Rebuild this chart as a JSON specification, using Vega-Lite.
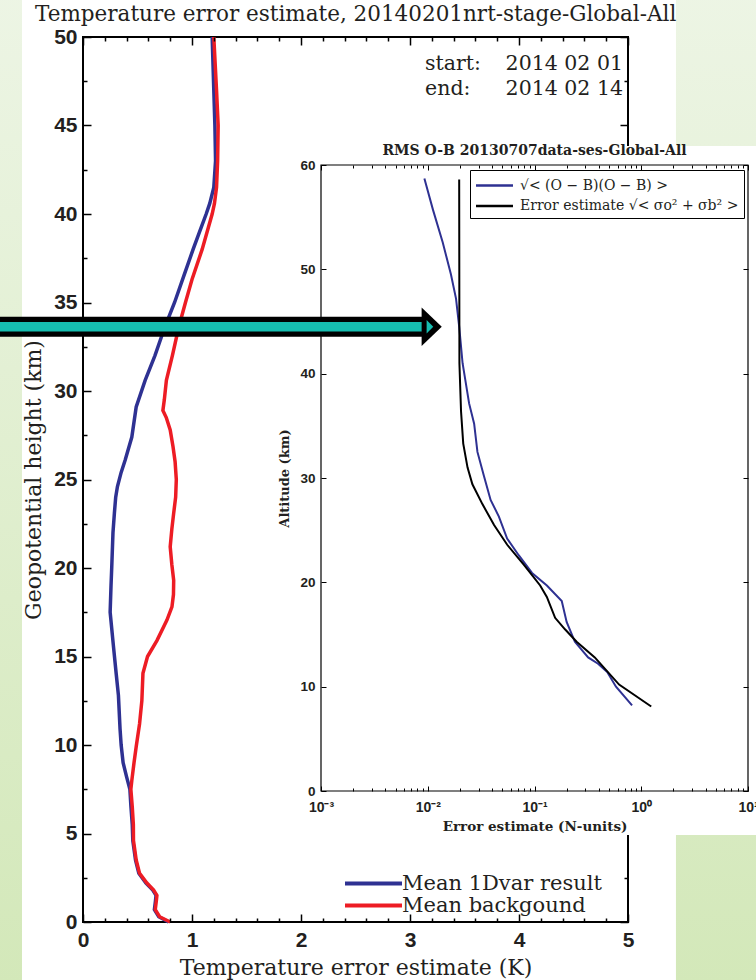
{
"$schema": "https://vega.github.io/schema/vega-lite/v6.json",
"width": 665, "height": 885,
"autosize": "none",
"padding": {"left": 83, "top": 37, "right": 8, "bottom": 58},
"background": "white",
"data": {"values": [{}]},
"config": {
  "view": {"stroke": null},
  "axis": {"labelFont": "Liberation Sans", "labelFontWeight": "bold", "labelColor": "#231f20", "tickColor": "black", "domain": false, "grid": false, "titleFont": "DejaVu Serif", "titleFontWeight": "normal", "titleColor": "#231f20", "labelOverlap": false, "labelFlush": false, "labelBound": false}
},
"datasets": {
  "main": [
    {"series": "Mean 1Dvar result", "h": 0, "t": 0.785},
    {"series": "Mean 1Dvar result", "h": 0.3, "t": 0.695},
    {"series": "Mean 1Dvar result", "h": 0.7, "t": 0.655},
    {"series": "Mean 1Dvar result", "h": 1.15, "t": 0.664},
    {"series": "Mean 1Dvar result", "h": 1.5, "t": 0.67},
    {"series": "Mean 1Dvar result", "h": 1.8, "t": 0.64},
    {"series": "Mean 1Dvar result", "h": 2.2, "t": 0.578},
    {"series": "Mean 1Dvar result", "h": 2.75, "t": 0.512},
    {"series": "Mean 1Dvar result", "h": 3.5, "t": 0.482},
    {"series": "Mean 1Dvar result", "h": 4.6, "t": 0.457},
    {"series": "Mean 1Dvar result", "h": 5.5, "t": 0.452},
    {"series": "Mean 1Dvar result", "h": 6.5, "t": 0.44},
    {"series": "Mean 1Dvar result", "h": 7.5, "t": 0.43},
    {"series": "Mean 1Dvar result", "h": 8.2, "t": 0.4},
    {"series": "Mean 1Dvar result", "h": 9.0, "t": 0.368},
    {"series": "Mean 1Dvar result", "h": 10.0, "t": 0.35},
    {"series": "Mean 1Dvar result", "h": 10.9, "t": 0.34},
    {"series": "Mean 1Dvar result", "h": 12.8, "t": 0.325},
    {"series": "Mean 1Dvar result", "h": 14.0, "t": 0.305},
    {"series": "Mean 1Dvar result", "h": 15.6, "t": 0.279},
    {"series": "Mean 1Dvar result", "h": 17.5, "t": 0.249},
    {"series": "Mean 1Dvar result", "h": 19.0, "t": 0.257},
    {"series": "Mean 1Dvar result", "h": 20.1, "t": 0.264},
    {"series": "Mean 1Dvar result", "h": 22.0, "t": 0.275},
    {"series": "Mean 1Dvar result", "h": 23.1, "t": 0.288},
    {"series": "Mean 1Dvar result", "h": 24.0, "t": 0.3},
    {"series": "Mean 1Dvar result", "h": 24.6, "t": 0.316},
    {"series": "Mean 1Dvar result", "h": 25.4, "t": 0.35},
    {"series": "Mean 1Dvar result", "h": 26.1, "t": 0.387},
    {"series": "Mean 1Dvar result", "h": 27.4, "t": 0.448},
    {"series": "Mean 1Dvar result", "h": 29.1, "t": 0.488},
    {"series": "Mean 1Dvar result", "h": 30.6, "t": 0.57},
    {"series": "Mean 1Dvar result", "h": 32.0, "t": 0.66},
    {"series": "Mean 1Dvar result", "h": 33.6, "t": 0.75},
    {"series": "Mean 1Dvar result", "h": 35.0, "t": 0.84},
    {"series": "Mean 1Dvar result", "h": 36.5, "t": 0.925},
    {"series": "Mean 1Dvar result", "h": 38.0, "t": 1.01},
    {"series": "Mean 1Dvar result", "h": 39.0, "t": 1.07},
    {"series": "Mean 1Dvar result", "h": 40.0, "t": 1.13},
    {"series": "Mean 1Dvar result", "h": 40.6, "t": 1.163},
    {"series": "Mean 1Dvar result", "h": 41.5, "t": 1.2},
    {"series": "Mean 1Dvar result", "h": 43.0, "t": 1.216},
    {"series": "Mean 1Dvar result", "h": 45.0, "t": 1.21},
    {"series": "Mean 1Dvar result", "h": 47.0, "t": 1.2},
    {"series": "Mean 1Dvar result", "h": 50.0, "t": 1.185},
    {"series": "Mean backgound", "h": 0, "t": 0.8},
    {"series": "Mean backgound", "h": 0.3, "t": 0.703},
    {"series": "Mean backgound", "h": 0.7, "t": 0.663},
    {"series": "Mean backgound", "h": 1.15, "t": 0.672},
    {"series": "Mean backgound", "h": 1.5, "t": 0.678},
    {"series": "Mean backgound", "h": 1.8, "t": 0.648},
    {"series": "Mean backgound", "h": 2.2, "t": 0.586},
    {"series": "Mean backgound", "h": 2.75, "t": 0.519},
    {"series": "Mean backgound", "h": 3.5, "t": 0.488},
    {"series": "Mean backgound", "h": 4.6, "t": 0.463},
    {"series": "Mean backgound", "h": 5.5, "t": 0.462},
    {"series": "Mean backgound", "h": 6.5, "t": 0.452},
    {"series": "Mean backgound", "h": 7.5, "t": 0.439},
    {"series": "Mean backgound", "h": 8.0, "t": 0.448},
    {"series": "Mean backgound", "h": 9.0, "t": 0.468},
    {"series": "Mean backgound", "h": 9.9, "t": 0.488},
    {"series": "Mean backgound", "h": 11.2, "t": 0.519},
    {"series": "Mean backgound", "h": 12.5, "t": 0.54},
    {"series": "Mean backgound", "h": 14.05, "t": 0.55},
    {"series": "Mean backgound", "h": 15.0, "t": 0.592},
    {"series": "Mean backgound", "h": 15.9, "t": 0.678},
    {"series": "Mean backgound", "h": 17.06, "t": 0.77},
    {"series": "Mean backgound", "h": 17.8, "t": 0.816},
    {"series": "Mean backgound", "h": 18.5, "t": 0.83},
    {"series": "Mean backgound", "h": 19.3, "t": 0.832},
    {"series": "Mean backgound", "h": 20.2, "t": 0.815},
    {"series": "Mean backgound", "h": 21.2, "t": 0.8},
    {"series": "Mean backgound", "h": 22.2, "t": 0.815},
    {"series": "Mean backgound", "h": 23.1, "t": 0.832},
    {"series": "Mean backgound", "h": 24.0, "t": 0.85},
    {"series": "Mean backgound", "h": 25.0, "t": 0.856},
    {"series": "Mean backgound", "h": 26.0, "t": 0.845},
    {"series": "Mean backgound", "h": 26.85, "t": 0.826},
    {"series": "Mean backgound", "h": 27.8, "t": 0.8},
    {"series": "Mean backgound", "h": 28.5, "t": 0.764},
    {"series": "Mean backgound", "h": 28.9, "t": 0.733},
    {"series": "Mean backgound", "h": 29.5, "t": 0.746},
    {"series": "Mean backgound", "h": 30.6, "t": 0.765},
    {"series": "Mean backgound", "h": 32.0, "t": 0.82},
    {"series": "Mean backgound", "h": 33.6, "t": 0.878},
    {"series": "Mean backgound", "h": 35.0, "t": 0.94},
    {"series": "Mean backgound", "h": 36.3, "t": 1.0},
    {"series": "Mean backgound", "h": 38.0, "t": 1.093},
    {"series": "Mean backgound", "h": 40.0, "t": 1.185},
    {"series": "Mean backgound", "h": 40.6, "t": 1.206},
    {"series": "Mean backgound", "h": 41.5, "t": 1.225},
    {"series": "Mean backgound", "h": 43.0, "t": 1.235},
    {"series": "Mean backgound", "h": 45.0, "t": 1.24},
    {"series": "Mean backgound", "h": 47.0, "t": 1.225},
    {"series": "Mean backgound", "h": 50.0, "t": 1.2}
  ],
  "inset": [
    {"s": "√< (O − B)(O − B) >", "alt": 58.7, "v": 0.0093},
    {"s": "√< (O − B)(O − B) >", "alt": 55.7, "v": 0.0112},
    {"s": "√< (O − B)(O − B) >", "alt": 52.6, "v": 0.0138},
    {"s": "√< (O − B)(O − B) >", "alt": 49.5, "v": 0.0165},
    {"s": "√< (O − B)(O − B) >", "alt": 47.2, "v": 0.0184},
    {"s": "√< (O − B)(O − B) >", "alt": 44.5, "v": 0.0197},
    {"s": "√< (O − B)(O − B) >", "alt": 41.0, "v": 0.0212},
    {"s": "√< (O − B)(O − B) >", "alt": 37.15, "v": 0.0244},
    {"s": "√< (O − B)(O − B) >", "alt": 35.2, "v": 0.0272},
    {"s": "√< (O − B)(O − B) >", "alt": 32.5, "v": 0.0292},
    {"s": "√< (O − B)(O − B) >", "alt": 30.2, "v": 0.0336},
    {"s": "√< (O − B)(O − B) >", "alt": 27.9, "v": 0.0388},
    {"s": "√< (O − B)(O − B) >", "alt": 26.3, "v": 0.0464},
    {"s": "√< (O − B)(O − B) >", "alt": 24.2, "v": 0.0554},
    {"s": "√< (O − B)(O − B) >", "alt": 22.6, "v": 0.0711},
    {"s": "√< (O − B)(O − B) >", "alt": 20.9, "v": 0.0948},
    {"s": "√< (O − B)(O − B) >", "alt": 19.7, "v": 0.1306},
    {"s": "√< (O − B)(O − B) >", "alt": 18.2, "v": 0.18},
    {"s": "√< (O − B)(O − B) >", "alt": 16.2, "v": 0.2},
    {"s": "√< (O − B)(O − B) >", "alt": 14.3, "v": 0.239},
    {"s": "√< (O − B)(O − B) >", "alt": 12.8, "v": 0.318},
    {"s": "√< (O − B)(O − B) >", "alt": 12.2, "v": 0.394},
    {"s": "√< (O − B)(O − B) >", "alt": 11.4, "v": 0.48},
    {"s": "√< (O − B)(O − B) >", "alt": 10.0, "v": 0.58},
    {"s": "√< (O − B)(O − B) >", "alt": 8.2, "v": 0.82},
    {"s": "Error estimate √< σo² + σb² >", "alt": 58.6, "v": 0.0197},
    {"s": "Error estimate √< σo² + σb² >", "alt": 41.0, "v": 0.0198},
    {"s": "Error estimate √< σo² + σb² >", "alt": 36.4, "v": 0.0205},
    {"s": "Error estimate √< σo² + σb² >", "alt": 33.3, "v": 0.0215},
    {"s": "Error estimate √< σo² + σb² >", "alt": 31.0, "v": 0.0236},
    {"s": "Error estimate √< σo² + σb² >", "alt": 29.4, "v": 0.0262},
    {"s": "Error estimate √< σo² + σb² >", "alt": 27.5, "v": 0.0325},
    {"s": "Error estimate √< σo² + σb² >", "alt": 25.5, "v": 0.0418},
    {"s": "Error estimate √< σo² + σb² >", "alt": 23.6, "v": 0.0555},
    {"s": "Error estimate √< σo² + σb² >", "alt": 21.7, "v": 0.0793},
    {"s": "Error estimate √< σo² + σb² >", "alt": 19.7, "v": 0.113},
    {"s": "Error estimate √< σo² + σb² >", "alt": 18.6, "v": 0.1305},
    {"s": "Error estimate √< σo² + σb² >", "alt": 16.6, "v": 0.156},
    {"s": "Error estimate √< σo² + σb² >", "alt": 15.5, "v": 0.193},
    {"s": "Error estimate √< σo² + σb² >", "alt": 14.3, "v": 0.248},
    {"s": "Error estimate √< σo² + σb² >", "alt": 12.8, "v": 0.367},
    {"s": "Error estimate √< σo² + σb² >", "alt": 10.2, "v": 0.62},
    {"s": "Error estimate √< σo² + σb² >", "alt": 8.1, "v": 1.24}
  ]
},
"resolve": {"scale": {"x": "independent", "y": "independent", "color": "independent"}, "axis": {"x": "independent", "y": "independent"}, "legend": {"color": "independent"}},
"layer": [
  {"mark": {"type": "rect", "fill": {"gradient": "linear", "x1": 0, "y1": 0, "x2": 0, "y2": 1, "stops": [{"offset": 0, "color": "#edf5e5"}, {"offset": 1, "color": "#d3e8b9"}]}},
   "encoding": {
     "x": {"datum": -0.8, "type": "quantitative", "scale": {"domain": [0, 5], "range": [0, 545], "nice": false, "zero": false}, "axis": null},
     "x2": {"datum": 6.3},
     "y": {"datum": -3.5, "type": "quantitative", "scale": {"domain": [0, 50], "range": [885, 0], "nice": false, "zero": false}, "axis": null},
     "y2": {"datum": 53}}},
  {"mark": {"type": "rect", "fill": "white"},
   "encoding": {
     "x": {"datum": -0.5596, "type": "quantitative", "scale": {"domain": [0, 5], "range": [0, 545], "nice": false, "zero": false}, "axis": null},
     "x2": {"datum": 5.44},
     "y": {"datum": -3.5, "type": "quantitative", "scale": {"domain": [0, 50], "range": [885, 0], "nice": false, "zero": false}, "axis": null},
     "y2": {"datum": 53}}},
  {"mark": {"type": "text", "text": "Temperature error estimate, 20140201nrt-stage-Global-All", "align": "left", "baseline": "alphabetic", "font": "DejaVu Serif", "fontSize": 21.5, "color": "#231f20"},
   "encoding": {
     "x": {"datum": -0.44, "type": "quantitative", "scale": {"domain": [0, 5], "range": [0, 545], "nice": false, "zero": false}, "axis": null},
     "y": {"datum": 50.9, "type": "quantitative", "scale": {"domain": [0, 50], "range": [885, 0], "nice": false, "zero": false}, "axis": null}}},
  {"mark": {"type": "rect", "fill": "white", "fillOpacity": 0, "stroke": "black", "strokeWidth": 2},
   "encoding": {
     "x": {"datum": 0, "type": "quantitative", "scale": {"domain": [0, 5], "range": [0, 545], "nice": false, "zero": false},
       "axis": {"orient": "top", "zindex": 1, "values": [0,0.2,0.4,0.6,0.8,1,1.2,1.4,1.6,1.8,2,2.2,2.4,2.6,2.8,3,3.2,3.4,3.6,3.8,4,4.2,4.4,4.6,4.8,5], "labels": false, "title": null, "tickWidth": 1.5, "tickSize": {"condition": {"test": "datum.value % 1 === 0", "value": -8}, "value": -4}}},
     "x2": {"datum": 5},
     "y": {"datum": 0, "type": "quantitative", "scale": {"domain": [0, 50], "range": [885, 0], "nice": false, "zero": false},
       "axis": {"orient": "right", "zindex": 1, "offset": -120, "values": [0, 2.5, 45, 47.5, 50], "labels": false, "title": null, "tickWidth": 1.5, "tickSize": {"condition": {"test": "datum.value % 5 === 0", "value": -8}, "value": -4}}},
     "y2": {"datum": 50}}},
  {"data": {"name": "main"},
   "mark": {"type": "line", "strokeWidth": 3.5},
   "encoding": {
     "x": {"field": "t", "type": "quantitative", "scale": {"domain": [0, 5], "range": [0, 545], "nice": false, "zero": false},
       "axis": {"orient": "bottom", "zindex": 1, "values": [0,0.2,0.4,0.6,0.8,1,1.2,1.4,1.6,1.8,2,2.2,2.4,2.6,2.8,3,3.2,3.4,3.6,3.8,4,4.2,4.4,4.6,4.8,5], "labelExpr": "datum.value % 1 === 0 ? format(datum.value, 'd') : ''", "labelFontSize": 21, "labelPadding": 15, "tickWidth": 1.5, "tickSize": {"condition": {"test": "datum.value % 1 === 0", "value": -8}, "value": -4}, "title": "Temperature error estimate (K)", "titleFontSize": 22, "titlePadding": 3}},
     "y": {"field": "h", "type": "quantitative", "scale": {"domain": [0, 50], "range": [885, 0], "nice": false, "zero": false},
       "axis": {"orient": "left", "zindex": 1, "values": [0,2.5,5,7.5,10,12.5,15,17.5,20,22.5,25,27.5,30,32.5,35,37.5,40,42.5,45,47.5,50], "labelExpr": "datum.value % 5 === 0 ? format(datum.value, 'd') : ''", "labelFontSize": 21, "labelPadding": 14, "tickWidth": 1.5, "tickSize": {"condition": {"test": "datum.value % 5 === 0", "value": -8}, "value": -4}, "title": "Geopotential height (km)", "titleFontSize": 22, "titlePadding": 8}},
     "color": {"field": "series", "type": "nominal", "scale": {"domain": ["Mean 1Dvar result", "Mean backgound"], "range": ["#2e3192", "#ed1c24"]},
       "legend": {"orient": "none", "legendX": 260, "legendY": 835, "title": null, "symbolType": "M -3 0 L 3 0", "symbolSize": 361, "symbolOffset": 19, "symbolStrokeWidth": 4, "labelFont": "DejaVu Serif", "labelFontSize": 21, "labelColor": "#231f20", "labelLimit": 400, "rowPadding": -10, "labelOffset": 17, "padding": 0}},
     "order": {"field": "h", "type": "quantitative"}}},
  {"mark": {"type": "text", "text": "start:", "align": "left", "baseline": "alphabetic", "font": "DejaVu Serif", "fontSize": 20.5, "color": "#231f20"},
   "encoding": {
     "x": {"datum": 3.138, "type": "quantitative", "scale": {"domain": [0, 5], "range": [0, 545], "nice": false, "zero": false}, "axis": null},
     "y": {"datum": 48.14, "type": "quantitative", "scale": {"domain": [0, 50], "range": [885, 0], "nice": false, "zero": false}, "axis": null}}},
  {"mark": {"type": "text", "text": "2014 02 01", "align": "right", "baseline": "alphabetic", "font": "DejaVu Serif", "fontSize": 20.5, "color": "#231f20"},
   "encoding": {
     "x": {"datum": 4.954, "type": "quantitative", "scale": {"domain": [0, 5], "range": [0, 545], "nice": false, "zero": false}, "axis": null},
     "y": {"datum": 48.14, "type": "quantitative", "scale": {"domain": [0, 50], "range": [885, 0], "nice": false, "zero": false}, "axis": null}}},
  {"mark": {"type": "text", "text": "end:", "align": "left", "baseline": "alphabetic", "font": "DejaVu Serif", "fontSize": 20.5, "color": "#231f20"},
   "encoding": {
     "x": {"datum": 3.138, "type": "quantitative", "scale": {"domain": [0, 5], "range": [0, 545], "nice": false, "zero": false}, "axis": null},
     "y": {"datum": 46.72, "type": "quantitative", "scale": {"domain": [0, 50], "range": [885, 0], "nice": false, "zero": false}, "axis": null}}},
  {"mark": {"type": "text", "text": "2014 02 14", "align": "right", "baseline": "alphabetic", "font": "DejaVu Serif", "fontSize": 20.5, "color": "#231f20"},
   "encoding": {
     "x": {"datum": 4.954, "type": "quantitative", "scale": {"domain": [0, 5], "range": [0, 545], "nice": false, "zero": false}, "axis": null},
     "y": {"datum": 46.72, "type": "quantitative", "scale": {"domain": [0, 50], "range": [885, 0], "nice": false, "zero": false}, "axis": null}}},
  {"mark": {"type": "rect", "fill": "white"},
   "encoding": {
     "x": {"datum": 1.835, "type": "quantitative", "scale": {"domain": [0, 5], "range": [0, 545], "nice": false, "zero": false}, "axis": null},
     "x2": {"datum": 6.3},
     "y": {"datum": 4.915, "type": "quantitative", "scale": {"domain": [0, 50], "range": [885, 0], "nice": false, "zero": false}, "axis": null},
     "y2": {"datum": 43.84}}},
  {"mark": {"type": "rect", "fill": "white", "fillOpacity": 0, "stroke": "black", "strokeWidth": 1.2},
   "encoding": {
     "x": {"datum": 0.001, "type": "quantitative", "scale": {"type": "log", "domain": [0.001, 10], "range": [238, 665], "nice": false},
       "axis": {"orient": "top", "zindex": 1, "offset": -128, "values": [0.001,0.002,0.003,0.004,0.005,0.006,0.007,0.008,0.009,0.01,0.02,0.03,0.04,0.05,0.06,0.07,0.08,0.09,0.1,0.2,0.3,0.4,0.5,0.6,0.7,0.8,0.9,1,2,3,4,5,6,7,8,9,10], "labels": false, "title": null, "tickWidth": 1, "tickSize": {"condition": {"test": "abs(log(datum.value)/LN10 - round(log(datum.value)/LN10)) < 0.000001", "value": -5}, "value": -3}}},
     "x2": {"datum": 10},
     "y": {"datum": 0, "type": "quantitative", "scale": {"domain": [0, 60], "range": [754, 128], "nice": false, "zero": false},
       "axis": {"orient": "right", "zindex": 1, "offset": 0, "values": [0,10,20,30,40,50,60], "labels": false, "title": null, "tickWidth": 1, "tickSize": -5}},
     "y2": {"datum": 60}}},
  {"data": {"name": "inset"},
   "mark": {"type": "line", "strokeWidth": 2},
   "encoding": {
     "x": {"field": "v", "type": "quantitative", "scale": {"type": "log", "domain": [0.001, 10], "range": [238, 665], "nice": false},
       "axis": {"orient": "bottom", "zindex": 1, "offset": -131, "values": [0.001,0.002,0.003,0.004,0.005,0.006,0.007,0.008,0.009,0.01,0.02,0.03,0.04,0.05,0.06,0.07,0.08,0.09,0.1,0.2,0.3,0.4,0.5,0.6,0.7,0.8,0.9,1,2,3,4,5,6,7,8,9,10], "labelExpr": "datum.value == 0.001 ? '10⁻³' : datum.value == 0.01 ? '10⁻²' : datum.value == 0.1 ? '10⁻¹' : datum.value == 1 ? '10⁰' : datum.value == 10 ? '10¹' : ''", "labelFontSize": 14, "labelPadding": 14, "tickWidth": 1, "tickSize": {"condition": {"test": "abs(log(datum.value)/LN10 - round(log(datum.value)/LN10)) < 0.000001", "value": -5}, "value": -3}, "title": "Error estimate (N-units)", "titleFont": "DejaVu Serif", "titleFontWeight": "bold", "titleFontSize": 13.5, "titlePadding": 3}},
     "y": {"field": "alt", "type": "quantitative", "scale": {"domain": [0, 60], "range": [754, 128], "nice": false, "zero": false},
       "axis": {"orient": "left", "zindex": 1, "offset": -238, "values": [0,10,20,30,40,50,60], "labelFontSize": 13.5, "labelPadding": 11, "tickWidth": 1, "tickSize": -5, "title": "Altitude (km)", "titleFont": "DejaVu Serif", "titleFontWeight": "bold", "titleFontSize": 13, "titlePadding": 8}},
     "color": {"field": "s", "type": "nominal", "scale": {"domain": ["√< (O − B)(O − B) >", "Error estimate √< σo² + σb² >"], "range": ["#2e3192", "#000000"]},
       "legend": {"orient": "none", "legendX": 387, "legendY": 133, "title": null, "strokeColor": "black", "fillColor": "white", "padding": 5, "symbolType": "M -2 0 L 2 0", "symbolSize": 342, "symbolOffset": 9, "symbolStrokeWidth": 2.5, "labelFont": "DejaVu Serif", "labelFontSize": 14, "labelColor": "#231f20", "labelLimit": 400, "rowPadding": 2.5, "labelOffset": 15}},
     "order": {"field": "alt", "type": "quantitative"}}},
  {"mark": {"type": "text", "text": "RMS O-B 20130707data-ses-Global-All", "align": "center", "baseline": "alphabetic", "font": "DejaVu Serif", "fontWeight": "bold", "fontSize": 14, "color": "#231f20"},
   "encoding": {
     "x": {"datum": 0.1, "type": "quantitative", "scale": {"type": "log", "domain": [0.001, 10], "range": [238, 665], "nice": false}, "axis": null},
     "y": {"datum": 60.96, "type": "quantitative", "scale": {"domain": [0, 60], "range": [754, 128], "nice": false, "zero": false}, "axis": null}}},
  {"mark": {"type": "rule", "color": "black", "strokeWidth": 20, "strokeCap": "butt"},
   "encoding": {
     "x": {"datum": -0.8, "type": "quantitative", "scale": {"domain": [0, 5], "range": [0, 545], "nice": false, "zero": false}, "axis": null},
     "x2": {"datum": 3.11},
     "y": {"datum": 33.63, "type": "quantitative", "scale": {"domain": [0, 50], "range": [885, 0], "nice": false, "zero": false}, "axis": null}}},
  {"mark": {"type": "rule", "color": "#16bdb0", "strokeWidth": 9.5, "strokeCap": "butt"},
   "encoding": {
     "x": {"datum": -0.8, "type": "quantitative", "scale": {"domain": [0, 5], "range": [0, 545], "nice": false, "zero": false}, "axis": null},
     "x2": {"datum": 3.165},
     "y": {"datum": 33.63, "type": "quantitative", "scale": {"domain": [0, 50], "range": [885, 0], "nice": false, "zero": false}, "axis": null}}},
  {"mark": {"type": "point", "shape": "M -0.52 -1 L 0.52 0 L -0.52 1 Z", "size": 1500, "filled": true, "color": "black", "opacity": 1, "strokeWidth": 0},
   "encoding": {
     "x": {"datum": 3.199, "type": "quantitative", "scale": {"domain": [0, 5], "range": [0, 545], "nice": false, "zero": false}, "axis": null},
     "y": {"datum": 33.63, "type": "quantitative", "scale": {"domain": [0, 50], "range": [885, 0], "nice": false, "zero": false}, "axis": null}}},
  {"mark": {"type": "point", "shape": "M -0.5 -1 L 0.5 0 L -0.5 1 Z", "size": 177, "filled": true, "color": "#16bdb0", "opacity": 1, "strokeWidth": 0},
   "encoding": {
     "x": {"datum": 3.183, "type": "quantitative", "scale": {"domain": [0, 5], "range": [0, 545], "nice": false, "zero": false}, "axis": null},
     "y": {"datum": 33.63, "type": "quantitative", "scale": {"domain": [0, 50], "range": [885, 0], "nice": false, "zero": false}, "axis": null}}}
]
}
